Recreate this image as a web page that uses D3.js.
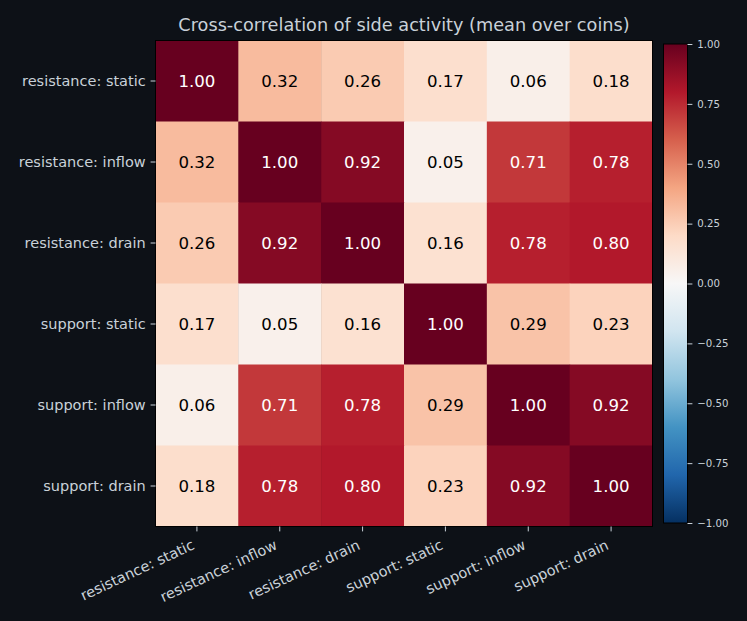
<!DOCTYPE html>
<meta charset="utf-8">
<style>
body { margin: 0; background: #0d1117; }
svg { display: block; font-family: "DejaVu Sans", sans-serif; }
.axis path { display: none; }
.axis line { stroke: #c9d1d9; }
.axis text { fill: #c9d1d9; font-family: "DejaVu Sans", sans-serif; }
</style>
<svg id="heat"></svg>
<script src="https://d3js.org/d3.v7.min.js"></script>
<script>

// data
const labels = ["resistance: static", "resistance: inflow", "resistance: drain",
                "support: static", "support: inflow", "support: drain"];
const corr = [
  [1.00, 0.32, 0.26, 0.17, 0.06, 0.18],
  [0.32, 1.00, 0.92, 0.05, 0.71, 0.78],
  [0.26, 0.92, 1.00, 0.16, 0.78, 0.80],
  [0.17, 0.05, 0.16, 1.00, 0.29, 0.23],
  [0.06, 0.71, 0.78, 0.29, 1.00, 0.92],
  [0.18, 0.78, 0.80, 0.23, 0.92, 1.00]
];
const cbarTicks = [-1, -0.75, -0.5, -0.25, 0, 0.25, 0.5, 0.75, 1];
const title = "Cross-correlation of side activity (mean over coins)";

// RdBu_r like matplotlib
const rdbu = ["#053061", "#2166ac", "#4393c3", "#92c5de", "#d1e5f0", "#f7f7f7",
              "#fddbc7", "#f4a582", "#d6604d", "#b2182b", "#67001f"];

let svg = d3.select("#heat").attr("width", 747).attr("height", 621);

let color = d3.scaleLinear()
  .domain(d3.range(11).map(i => -1 + i * 0.2))
  .range(rdbu)
  .interpolate(d3.interpolateRgb)
  .clamp(true);

let x = d3.scaleBand().domain(labels).range([155.5, 652.5]);
let y = d3.scaleBand().domain(labels).range([40.5, 526.5]);

let cells = [];
corr.forEach((row, i) => row.forEach((v, j) => cells.push({r: labels[i], c: labels[j], v: v})));

svg.selectAll(".cell")
  .data(cells)
  .enter()
  .append("rect")
  .attr("class", "cell")
  .attr("x", d => x(d.c))
  .attr("y", d => y(d.r))
  .attr("width", x.bandwidth() + 0.5)
  .attr("height", y.bandwidth() + 0.5)
  .attr("fill", d => color(d.v));

svg.selectAll(".ann")
  .data(cells)
  .enter()
  .append("text")
  .attr("class", "ann")
  .attr("x", d => x(d.c) + x.bandwidth() / 2)
  .attr("y", d => y(d.r) + y.bandwidth() / 2)
  .attr("dy", "0.35em")
  .attr("text-anchor", "middle")
  .style("font-size", "16.6px")
  .attr("fill", d => Math.abs(d.v) > 0.5 ? "white" : "black")
  .text(d => d.v.toFixed(2));

svg.append("rect")
  .attr("x", 155.5).attr("y", 40.5)
  .attr("width", 497).attr("height", 486)
  .attr("fill", "none").attr("stroke", "black").attr("stroke-width", 1);

// y axis
svg.append("g")
  .attr("class", "axis")
  .attr("transform", "translate(155.5,0)")
  .call(d3.axisLeft(y).tickSize(4.9).tickPadding(4.9))
  .selectAll("text")
  .style("font-size", "14.5px");

// x axis
let xg = svg.append("g")
  .attr("class", "axis")
  .attr("transform", "translate(0,526.5)")
  .call(d3.axisBottom(x).tickSize(4.9).tickPadding(4.9));

// matplotlib style rotated labels (ha=right, va=top)
let fs = 14.5, asc = 0.928 * fs, desc = 0.236 * fs, th = 25 * Math.PI / 180;
xg.selectAll(".tick text")
  .style("font-size", fs + "px")
  .attr("text-anchor", "end")
  .attr("y", null).attr("dy", null)
  .attr("transform", "translate(" + (-desc * Math.sin(th)) + "," + (9.8 + asc * Math.cos(th)) + ") rotate(-25)");

// title
svg.append("text")
  .attr("x", 404)
  .attr("y", 31)
  .attr("text-anchor", "middle")
  .attr("fill", "#c9d1d9")
  .style("font-size", "17.7px")
  .text(title);

// colorbar
let cy = d3.scaleLinear().domain([-1, 1]).range([523, 44]);
let defs = svg.append("defs");
let grad = defs.append("linearGradient")
  .attr("id", "cbar")
  .attr("x1", 0).attr("y1", 1).attr("x2", 0).attr("y2", 0);
grad.selectAll("stop")
  .data(rdbu)
  .enter()
  .append("stop")
  .attr("offset", (d, i) => i / 10)
  .attr("stop-color", d => d);

svg.append("rect")
  .attr("x", 663.5).attr("y", cy(1))
  .attr("width", 24).attr("height", cy(-1) - cy(1))
  .attr("fill", "url(#cbar)")
  .attr("stroke", "black").attr("stroke-width", 1);

svg.append("g")
  .attr("class", "axis")
  .attr("transform", "translate(687.5,0)")
  .call(d3.axisRight(cy).tickValues(cbarTicks).tickSize(4.9).tickPadding(4.9)
    .tickFormat(d => d3.format(".2f")(d).replace("-", "\u2212")))
  .selectAll("text")
  .style("font-size", "10.2px");

</script>
